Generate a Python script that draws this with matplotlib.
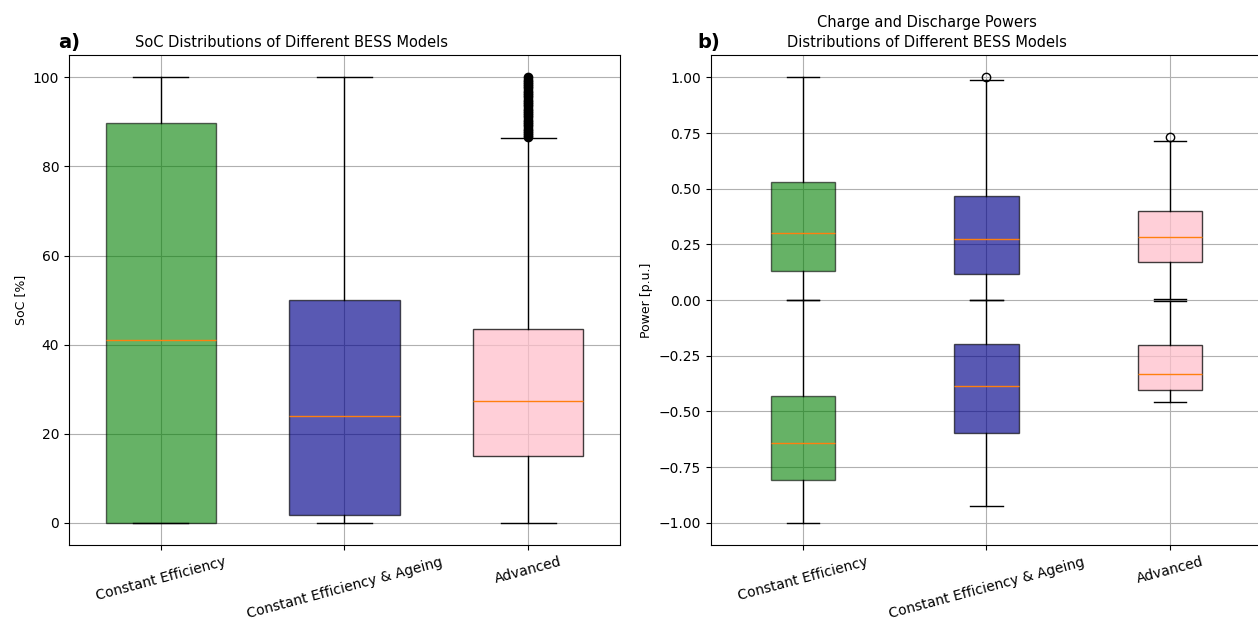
import matplotlib
matplotlib.use("Agg")
import matplotlib.pyplot as plt

# ---------------- data ----------------
models = ["Constant Efficiency", "Constant Efficiency & Ageing", "Advanced"]
colors = ["green", "darkblue", "pink"]
alphas = [0.6, 0.65, 0.75]

# SoC distributions [%]
soc_whislo = [0.0, 0.0, 0.0]
soc_q1 = [0.0, 1.8, 15.0]
soc_med = [41.0, 24.0, 27.3]
soc_q3 = [89.8, 50.0, 43.6]
soc_whishi = [100.0, 100.0, 86.4]
soc_fliers = [
    [],
    [],
    [86.6, 87.0, 87.5, 88.0, 88.5, 89.0, 89.5, 90.0, 90.5, 91.0, 91.5, 92.0,
     92.5, 93.0, 93.5, 94.0, 94.5, 95.0, 95.5, 96.0, 96.5, 97.0, 97.5, 98.0,
     98.5, 99.0, 99.5, 100.0],
]

# Charge powers (positive) [p.u.]
ch_whislo = [0.0, 0.0, 0.004]
ch_q1 = [0.13, 0.118, 0.173]
ch_med = [0.30, 0.275, 0.285]
ch_q3 = [0.529, 0.469, 0.398]
ch_whishi = [1.0, 0.99, 0.716]
ch_fliers = [[], [1.0], [0.734]]

# Discharge powers (negative) [p.u.]
dis_whislo = [-1.0, -0.927, -0.456]
dis_q1 = [-0.81, -0.598, -0.405]
dis_med = [-0.64, -0.388, -0.331]
dis_q3 = [-0.43, -0.197, -0.200]
dis_whishi = [0.0, 0.0, -0.004]
dis_fliers = [[], [], []]

soc_yticks = [0, 20, 40, 60, 80, 100]
pow_yticks = [-1.0, -0.75, -0.5, -0.25, 0.0, 0.25, 0.5, 0.75, 1.0]


def make_stats(lo, q1, med, q3, hi, fl):
    out = []
    for i in range(len(lo)):
        out.append(dict(whislo=lo[i], q1=q1[i], med=med[i], q3=q3[i],
                        whishi=hi[i], fliers=fl[i], label=models[i]))
    return out


def style(bp):
    for box, c, a in zip(bp["boxes"], colors, alphas):
        box.set_facecolor(c)
        box.set_alpha(a)


fig, (ax1, ax2) = plt.subplots(1, 2, figsize=(12.58, 6.26), dpi=100)
fig.subplots_adjust(left=0.0548, right=1.0032, bottom=0.1294, top=0.912,
                    wspace=0.165)

FS_TICK = 10
FS_LABEL = 9
FS_TITLE = 10.5

positions = [1, 2, 3]

# ---------- a) SoC ----------
bp = ax1.bxp(make_stats(soc_whislo, soc_q1, soc_med, soc_q3, soc_whishi, soc_fliers),
             positions=positions, widths=0.6, patch_artist=True,
             flierprops=dict(marker="o", markerfacecolor="black",
                             markeredgecolor="black", markersize=6))
style(bp)
ax1.set_xlim(0.5, 3.5)
ax1.set_ylim(-5, 105)
ax1.set_yticks(soc_yticks)
ax1.set_ylabel("SoC [%]", fontsize=FS_LABEL)
ax1.set_title("SoC Distributions of Different BESS Models", fontsize=FS_TITLE,
              x=0.403)
ax1.grid(True)
ax1.text(-0.02, 1.006, "a)", transform=ax1.transAxes, fontsize=14,
         fontweight="bold", ha="left", va="bottom")

# ---------- b) Power ----------
bp = ax2.bxp(make_stats(ch_whislo, ch_q1, ch_med, ch_q3, ch_whishi, ch_fliers),
             positions=positions, widths=0.35, patch_artist=True)
style(bp)
bp = ax2.bxp(make_stats(dis_whislo, dis_q1, dis_med, dis_q3, dis_whishi, dis_fliers),
             positions=positions, widths=0.35, patch_artist=True)
style(bp)
ax2.set_xlim(0.5, 3.5)
ax2.set_ylim(-1.1, 1.1)
ax2.set_yticks(pow_yticks)
ax2.set_yticklabels([f"{v:.2f}".replace("-", "\u2212") for v in pow_yticks])
ax2.set_ylabel("Power [p.u.]", fontsize=FS_LABEL)
ax2.set_title("Charge and Discharge Powers\nDistributions of Different BESS Models",
              fontsize=FS_TITLE, x=0.392, linespacing=1.4)
ax2.grid(True)
ax2.text(-0.025, 1.006, "b)", transform=ax2.transAxes, fontsize=14,
         fontweight="bold", ha="left", va="bottom")

for ax in (ax1, ax2):
    ax.set_xticks(positions)
    ax.set_xticklabels(models, rotation=15, ha="center", fontsize=FS_TICK)
    ax.tick_params(axis="y", labelsize=FS_TICK)

fig.savefig("out.png", dpi=100)
